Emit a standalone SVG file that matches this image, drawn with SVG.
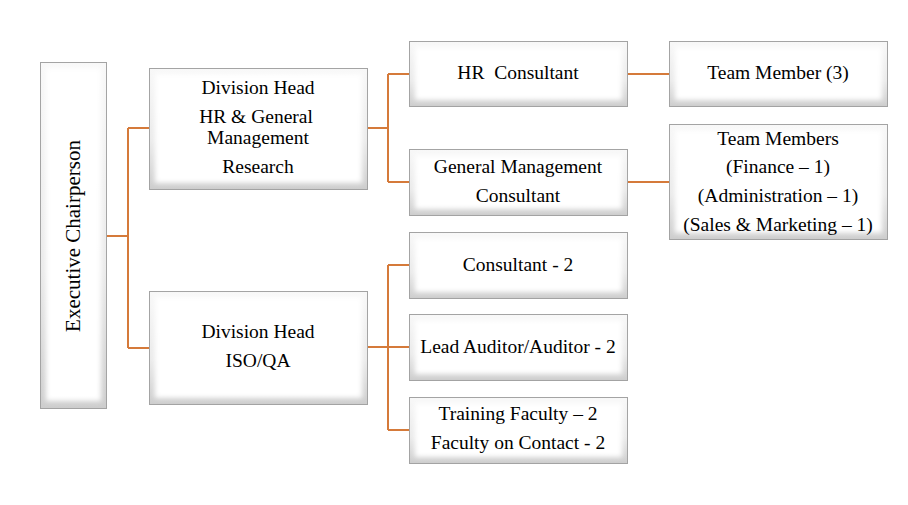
<svg xmlns="http://www.w3.org/2000/svg" width="908" height="505" viewBox="0 0 908 505">
<defs>
<linearGradient id="bev" x1="0" y1="0" x2="0" y2="1">
<stop offset="0" stop-color="#F8F8F8"/>
<stop offset="0.6" stop-color="#EAEAEA"/>
<stop offset="1" stop-color="#CDCDCD"/>
</linearGradient>
<filter id="soft" x="-10%" y="-10%" width="120%" height="120%">
<feGaussianBlur stdDeviation="2.5"/>
</filter>
</defs>
<style>
.outer{fill:url(#bev);stroke:#A3A3A3;stroke-width:1}
.inner{fill:#FFFFFF;filter:url(#soft)}
.t{font-family:"Liberation Serif","Times New Roman",serif;font-size:19.5px;fill:#000;text-anchor:middle}
.c{fill:none;stroke:#D57A3A;stroke-width:2}
</style>
<rect width="908" height="505" fill="#FFFFFF"/>
<g id="connectors">
<path class="c" d="M106,236 H128 M128,128 V348 M128,128 H149 M128,348 H149"/>
<path class="c" d="M367,128 H388 M388,74 V182 M388,74 H409 M388,182 H409"/>
<path class="c" d="M627,74 H669 M627,182 H669"/>
<path class="c" d="M367,347 H388 M388,265 V430 M388,265 H409 M388,347 H409 M388,430 H409"/>
</g>
<g id="exec">
<rect class="outer" x="40.5" y="62.5" width="66" height="346"/>
<rect class="inner" x="46" y="68" width="55" height="333"/>
<text class="t" style="font-size:21px" transform="translate(80,236) rotate(-90)" x="0" y="0">Executive Chairperson</text>
</g>
<g id="div1">
<rect class="outer" x="149.5" y="68.5" width="218" height="121"/>
<rect class="inner" x="155" y="74" width="207" height="109"/>
<text class="t" x="258" y="94">Division Head</text>
<text class="t" x="256" y="123">HR &amp; General</text>
<text class="t" x="258" y="144">Management</text>
<text class="t" x="258" y="173">Research</text>
</g>
<g id="div2">
<rect class="outer" x="149.5" y="291.5" width="218" height="113"/>
<rect class="inner" x="155" y="297" width="207" height="101"/>
<text class="t" x="258" y="338">Division Head</text>
<text class="t" x="258" y="367">ISO/QA</text>
</g>
<g id="hrc">
<rect class="outer" x="409.5" y="41.5" width="218" height="65"/>
<rect class="inner" x="415" y="47" width="207" height="53"/>
<text class="t" x="518" y="79" xml:space="preserve">HR  Consultant</text>
</g>
<g id="gmc">
<rect class="outer" x="409.5" y="149.5" width="218" height="66"/>
<rect class="inner" x="415" y="155" width="207" height="54"/>
<text class="t" x="518" y="173">General Management</text>
<text class="t" x="518" y="202">Consultant</text>
</g>
<g id="tm3">
<rect class="outer" x="669.5" y="41.5" width="218" height="65"/>
<rect class="inner" x="675" y="47" width="207" height="53"/>
<text class="t" x="778" y="79">Team Member (3)</text>
</g>
<g id="tms">
<rect class="outer" x="669.5" y="124.5" width="218" height="115"/>
<rect class="inner" x="675" y="130" width="207" height="103"/>
<text class="t" x="778" y="145">Team Members</text>
<text class="t" x="778" y="173">(Finance – 1)</text>
<text class="t" x="778" y="202">(Administration – 1)</text>
<text class="t" x="778" y="231">(Sales &amp; Marketing – 1)</text>
</g>
<g id="c2">
<rect class="outer" x="409.5" y="232.5" width="218" height="66"/>
<rect class="inner" x="415" y="238" width="207" height="54"/>
<text class="t" x="518" y="271">Consultant - 2</text>
</g>
<g id="la">
<rect class="outer" x="409.5" y="314.5" width="218" height="66"/>
<rect class="inner" x="415" y="320" width="207" height="54"/>
<text class="t" x="518" y="353">Lead Auditor/Auditor - 2</text>
</g>
<g id="tf">
<rect class="outer" x="409.5" y="397.5" width="218" height="66"/>
<rect class="inner" x="415" y="403" width="207" height="54"/>
<text class="t" x="518" y="420">Training Faculty – 2</text>
<text class="t" x="518" y="449">Faculty on Contact - 2</text>
</g>
</svg>
